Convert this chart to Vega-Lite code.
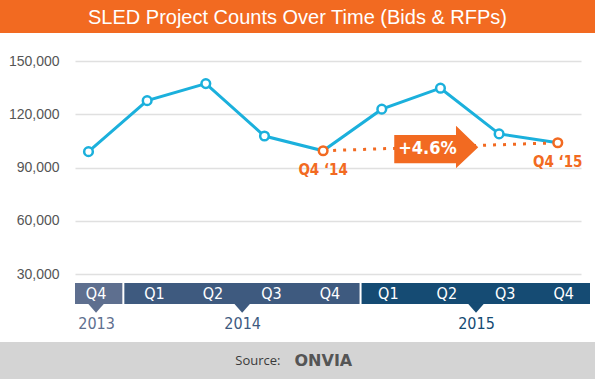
{
  "$schema": "https://vega.github.io/schema/vega-lite/v6.json",
  "background": "white",
  "padding": 0,
  "spacing": 0,
  "config": {"view": {"stroke": null}, "concat": {"spacing": 0}},
  "datasets": {
    "quarters": [
      {"year": "2013", "quarter": "Q4", "idx": 0, "projects": 99000, "label": "Q4 ‘13"},
      {"year": "2014", "quarter": "Q1", "idx": 1, "projects": 127700, "label": "Q1 ‘14"},
      {"year": "2014", "quarter": "Q2", "idx": 2, "projects": 137300, "label": "Q2 ‘14"},
      {"year": "2014", "quarter": "Q3", "idx": 3, "projects": 107800, "label": "Q3 ‘14"},
      {"year": "2014", "quarter": "Q4", "idx": 4, "projects": 99500, "label": "Q4 ‘14"},
      {"year": "2015", "quarter": "Q1", "idx": 5, "projects": 122900, "label": "Q1 ‘15"},
      {"year": "2015", "quarter": "Q2", "idx": 6, "projects": 134700, "label": "Q2 ‘15"},
      {"year": "2015", "quarter": "Q3", "idx": 7, "projects": 109000, "label": "Q3 ‘15"},
      {"year": "2015", "quarter": "Q4", "idx": 8, "projects": 104000, "label": "Q4 ‘15"}
    ],
    "years": [
      {"year": "2013", "start": -0.36, "end": 0.467, "mid": 0},
      {"year": "2014", "start": 0.467, "end": 4.525, "mid": 2.5},
      {"year": "2015", "start": 4.525, "end": 8.45, "mid": 6.5}
    ]
  },
  "vconcat": [
    {
      "width": 595,
      "height": 33,
      "view": {"fill": "#F26A21", "stroke": null},
      "data": {"values": [{"title": "SLED Project Counts Over Time (Bids & RFPs)"}]},
      "mark": {"type": "text", "font": "Liberation Sans", "fontSize": 20, "color": "white", "align": "center", "baseline": "middle", "dy": 1},
      "encoding": {"text": {"field": "title", "type": "nominal"}}
    },
    {
      "spacing": 0,
      "hconcat": [
        {
          "width": 1,
          "height": 1,
          "data": {"values": []},
          "mark": "point"
        },
        {
          "spacing": 0,
          "vconcat": [
            {
              "width": 506,
              "height": 249,
              "data": {"name": "quarters"},
              "encoding": {
                "x": {"field": "idx", "type": "quantitative", "scale": {"domain": [-0.23, 8.396], "nice": false, "zero": false}, "axis": null},
                "y": {
                  "field": "projects", "type": "quantitative",
                  "scale": {"domain": [25667, 165757], "nice": false, "zero": false},
                  "axis": {
                    "title": null, "values": [30000, 60000, 90000, 120000, 150000], "format": ",d",
                    "labelFont": "Liberation Sans", "labelFontSize": 14, "labelColor": "#555555",
                    "labelPadding": 16, "ticks": false, "domain": false,
                    "grid": true, "gridColor": "#E0E0E0", "gridWidth": 1.5,
                    "minExtent": 74, "maxExtent": 74
                  }
                }
              },
              "layer": [
                {"mark": {"type": "line", "color": "#1BB0DC", "strokeWidth": 3}},
                {
                  "transform": [{"filter": {"field": "label", "oneOf": ["Q4 ‘14", "Q4 ‘15"]}}],
                  "mark": {"type": "line", "color": "#F26A21", "strokeWidth": 3, "strokeDash": [3, 7]}
                },
                {
                  "transform": [
                    {"filter": {"field": "label", "oneOf": ["Q4 ‘14", "Q4 ‘15"]}},
                    {"aggregate": [{"op": "mean", "field": "idx", "as": "idx"}, {"op": "mean", "field": "projects", "as": "projects"}]}
                  ],
                  "mark": {"type": "point", "shape": "M-1.1,-0.28L0.37,-0.28L0.37,-0.5L0.9,0.01L0.37,0.51L0.37,0.39L-1.1,0.39Z", "size": 7056, "filled": true, "color": "#F26A21", "opacity": 1}
                },
                {
                  "transform": [
                    {"filter": {"field": "label", "oneOf": ["Q4 ‘14", "Q4 ‘15"]}},
                    {"aggregate": [{"op": "mean", "field": "idx", "as": "idx"}, {"op": "mean", "field": "projects", "as": "projects"}]}
                  ],
                  "mark": {"type": "text", "text": "+4.6%", "font": "Liberation Sans Narrow, DejaVu Sans Condensed, Liberation Sans", "fontWeight": "bold", "fontSize": 18, "color": "white", "dx": -13, "dy": 2, "baseline": "middle"}
                },
                {
                  "mark": {"type": "point", "filled": true, "fill": "white", "size": 75, "strokeWidth": 2.5, "opacity": 1},
                  "encoding": {
                    "stroke": {"condition": {"test": "datum.label == 'Q4 ‘14' || datum.label == 'Q4 ‘15'", "value": "#F26A21"}, "value": "#1BB0DC"}
                  }
                },
                {
                  "transform": [{"filter": {"field": "label", "oneOf": ["Q4 ‘14", "Q4 ‘15"]}}],
                  "mark": {"type": "text", "font": "Liberation Sans Narrow, DejaVu Sans Condensed, Liberation Sans", "fontWeight": "bold", "fontSize": 15, "color": "#F26A21", "dy": 19, "baseline": "middle"},
                  "encoding": {"text": {"field": "label", "type": "nominal"}}
                }
              ]
            },
            {
              "width": 515,
              "height": 21,
              "layer": [
                {
                  "data": {"name": "years"},
                  "mark": {"type": "rect"},
                  "encoding": {
                    "x": {
                      "field": "start", "type": "quantitative",
                      "scale": {"domain": [-0.36, 8.45], "nice": false, "zero": false},
                      "axis": {
                        "title": null, "values": [0, 2.5, 6.5],
                        "labelExpr": "datum.value < 1 ? '2013' : datum.value < 4 ? '2014' : '2015'",
                        "labelFont": "Liberation Sans Narrow, DejaVu Sans Condensed, Liberation Sans", "labelFontSize": 16,
                        "labelColor": {"condition": [{"test": "datum.value < 1", "value": "#5E6F8F"}, {"test": "datum.value < 4", "value": "#3E5A7F"}], "value": "#154B73"},
                        "labelPadding": 11, "ticks": false, "domain": false, "grid": false,
                        "labelFlush": false, "labelOverlap": false,
                        "minExtent": 38, "maxExtent": 38
                      }
                    },
                    "x2": {"field": "end"},
                    "y": {
                      "datum": "Quarters", "type": "nominal",
                      "scale": {"paddingInner": 0, "paddingOuter": 0},
                      "axis": {"title": null, "labelColor": "transparent", "ticks": false, "domain": false, "grid": false, "minExtent": 74, "maxExtent": 74}
                    },
                    "color": {"field": "year", "type": "nominal", "scale": {"domain": ["2013", "2014", "2015"], "range": ["#5E6F8F", "#3E5A7F", "#154B73"]}, "legend": null}
                  }
                },
                {
                  "data": {"name": "years"},
                  "transform": [{"filter": "datum.year != '2013'"}],
                  "mark": {"type": "rule", "color": "white", "strokeWidth": 2},
                  "encoding": {"x": {"field": "start", "type": "quantitative"}}
                },
                {
                  "data": {"name": "years"},
                  "mark": {"type": "point", "shape": "M-0.9,0.9L0.9,0.9L0,1.92Z", "size": 400, "filled": true, "opacity": 1},
                  "encoding": {
                    "x": {"field": "mid", "type": "quantitative"},
                    "y": {"datum": "Quarters", "type": "nominal"},
                    "color": {"field": "year", "type": "nominal"}
                  }
                },
                {
                  "data": {"name": "quarters"},
                  "mark": {"type": "text", "color": "white", "font": "Liberation Sans Narrow, DejaVu Sans Condensed, Liberation Sans", "fontSize": 16, "baseline": "middle"},
                  "encoding": {
                    "x": {"field": "idx", "type": "quantitative"},
                    "y": {"datum": "Quarters", "type": "nominal"},
                    "text": {"field": "quarter", "type": "nominal"}
                  }
                }
              ]
            }
          ]
        }
      ]
    },
    {
      "width": 595,
      "height": 38,
      "view": {"fill": "#D4D4D4", "stroke": null},
      "data": {"values": [{"source": "Source:", "brand": "ONVIA"}]},
      "layer": [
        {
          "mark": {"type": "text", "font": "Open Sans", "fontSize": 13, "color": "#3A3A3A", "align": "right", "baseline": "middle", "dx": -17},
          "encoding": {"text": {"field": "source", "type": "nominal"}}
        },
        {
          "mark": {"type": "text", "font": "DejaVu Sans", "fontWeight": "bold", "fontSize": 16, "color": "#555555", "align": "left", "baseline": "middle", "dx": -3},
          "encoding": {"text": {"field": "brand", "type": "nominal"}}
        }
      ]
    }
  ]
}
